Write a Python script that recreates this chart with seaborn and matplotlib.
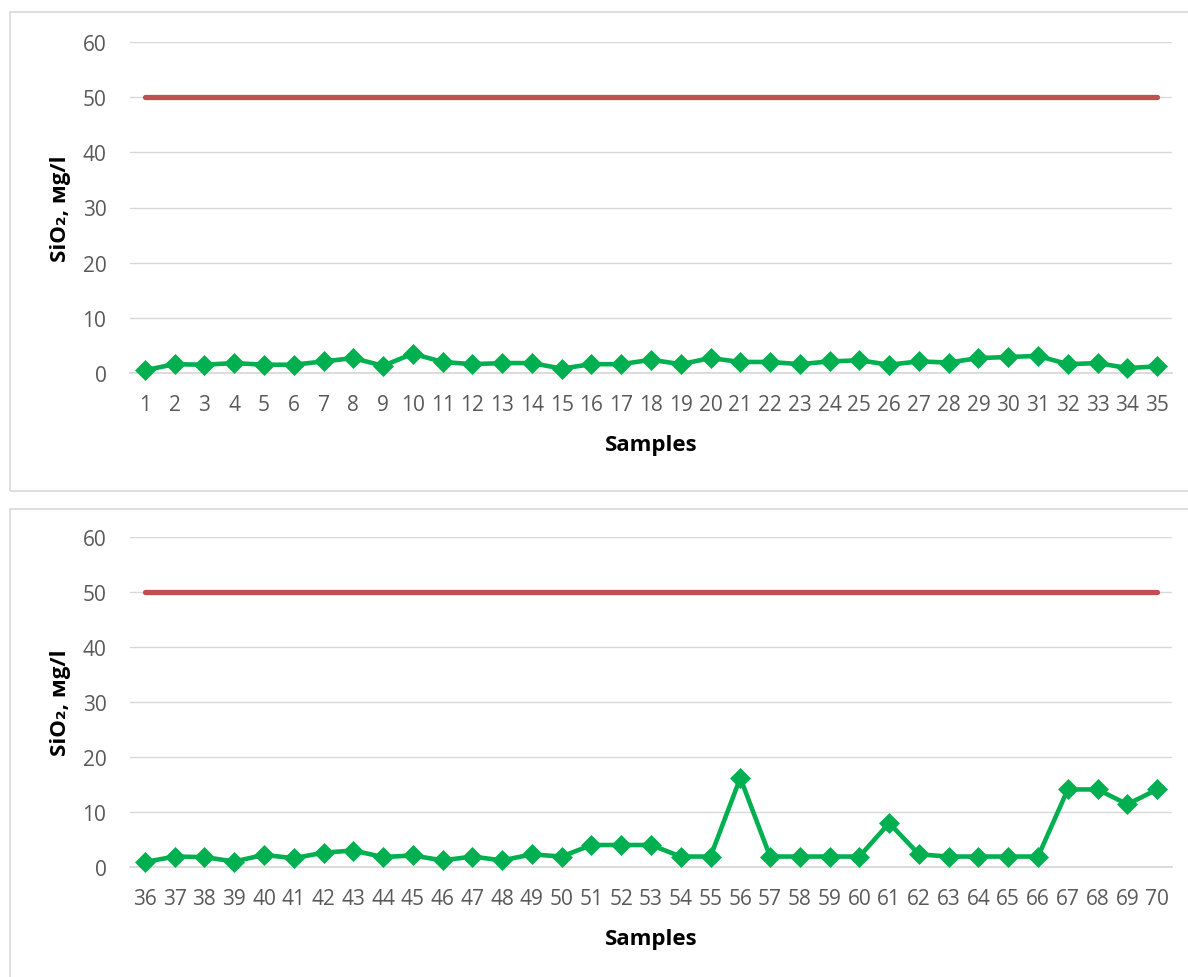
import numpy as np
import matplotlib
matplotlib.use("Agg")
import matplotlib.pyplot as plt
import seaborn as sns
from matplotlib.patches import Rectangle

# data
samples_top = list(range(1, 36))
sio2_top = [0.5, 1.6, 1.5, 1.8, 1.5, 1.5, 2.1, 2.7, 1.3, 3.5,
            2.0, 1.6, 1.8, 1.8, 0.8, 1.6, 1.6, 2.4, 1.6, 2.7,
            2.0, 2.0, 1.6, 2.1, 2.3, 1.5, 2.1, 1.9, 2.7, 2.9,
            3.1, 1.6, 1.8, 0.9, 1.2]

samples_bottom = list(range(36, 71))
sio2_bottom = [0.9, 1.9, 1.8, 1.0, 2.2, 1.6, 2.6, 3.0, 1.8, 2.1,
               1.2, 1.9, 1.2, 2.3, 1.9, 4.0, 4.0, 4.0, 1.9, 1.9,
               16.2, 1.9, 1.9, 1.9, 1.9, 8.0, 2.3, 1.9, 1.9, 1.9,
               1.9, 14.1, 14.1, 11.4, 14.1]

limit = 50
y_ticks = [0, 10, 20, 30, 40, 50, 60]

GREEN = "#00B050"
RED = "#C0504D"
GRID = "#D9D9D9"
TEXT = "#595959"

sns.set_theme(style="white")
plt.rcParams["font.family"] = ["Open Sans", "DejaVu Sans"]

fig = plt.figure(figsize=(11.88, 9.78), dpi=100)

# panel frames
for y0, h in [(1 - 492 / 978, (492 - 13) / 978), (-0.01, 1 - 510 / 978 + 0.01)]:
    fig.patches.append(Rectangle((9.5 / 1188, y0), 1.0, h, transform=fig.transFigure,
                                 fill=False, edgecolor=GRID, linewidth=1.2))

ax1 = fig.add_axes([130 / 1188, 1 - 374 / 978, 1042 / 1188, 331 / 978])
ax2 = fig.add_axes([130 / 1188, 1 - 868 / 978, 1042 / 1188, 330 / 978])

for ax, xs, ys in [(ax1, samples_top, sio2_top), (ax2, samples_bottom, sio2_bottom)]:
    ax.set_axisbelow(True)
    ax.plot(xs, [limit] * len(xs), color=RED, linewidth=3.8, solid_capstyle="round")
    sns.lineplot(x=xs, y=ys, ax=ax, color=GREEN, linewidth=3.3, marker="D",
                 markersize=10, markeredgecolor=GREEN, markeredgewidth=0.5)
    for line in ax.lines:
        line.set_clip_on(False)
        line.set_zorder(4)

    ax.set_xlim(xs[0] - 0.5, xs[-1] + 0.5)
    ax.set_ylim(0, 60)
    ax.set_xticks(xs)
    ax.set_xticklabels([str(x) for x in xs])
    ax.set_yticks(y_ticks)
    ax.grid(axis="y", color=GRID, linewidth=1.0)
    ax.grid(axis="x", visible=False)
    for s in ["top", "right", "left"]:
        ax.spines[s].set_visible(False)
    ax.spines["bottom"].set_color(GRID)
    ax.spines["bottom"].set_linewidth(1.3)
    ax.tick_params(axis="both", length=0, labelsize=15, labelcolor=TEXT)
    ax.tick_params(axis="x", pad=15)
    ax.tick_params(axis="y", pad=17)

    ax.set_xlabel("Samples", fontsize=16, fontweight="bold", color="black", va="top")
    ax.xaxis.set_label_coords(0.5, -0.185)
    ax.set_ylabel("SiO₂, мg/l", fontsize=16, fontweight="bold", color="black")
    ax.yaxis.set_label_coords(-0.057, 0.5)

fig.savefig("out.png", dpi=100)
